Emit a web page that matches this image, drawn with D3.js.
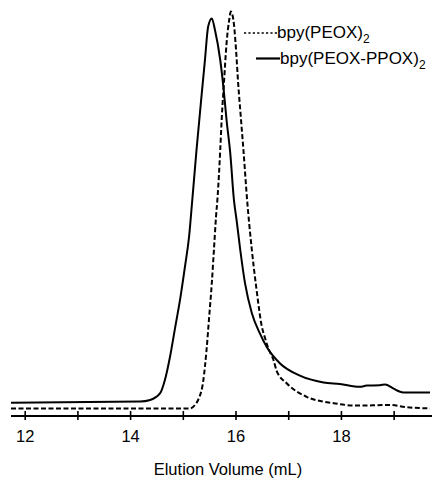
<!DOCTYPE html>
<html><head><meta charset="utf-8">
<script src="https://cdn.jsdelivr.net/npm/d3@7"></script>
<style>body{margin:0;background:#fff}svg{display:block}text{font-family:"Liberation Sans",Arial,sans-serif;fill:#000}</style>
</head><body><div id="chart"></div>
<script>
// Elution volume (mL) and detector response (arbitrary units)
const solidX = [11.74,14.19,14.38,14.57,14.66,14.76,14.85,14.95,15.04,15.12,15.17,15.26,15.36,15.42,15.48,15.55,15.61,15.71,15.77,15.83,15.90,15.97,16.02,16.09,16.18,16.31,16.46,16.59,16.84,17.22,17.67,17.98,18.36,18.49,18.74,18.84,18.99,19.18,19.69];
const solidY = [3.3,3.6,4.0,5.7,9.0,15.0,21.8,29.3,37.3,45.0,52.5,66.5,80.7,89.0,97.3,99.4,96.5,89.0,82.3,74.0,65.7,54.0,49.0,41.5,33.2,25.7,20.7,17.3,13.2,10.1,8.4,8.0,7.3,7.6,7.7,7.9,6.9,5.9,5.9];
const dashX = [11.74,14.95,15.14,15.23,15.29,15.39,15.45,15.50,15.55,15.59,15.63,15.66,15.71,15.74,15.78,15.83,15.88,15.91,15.96,16.01,16.05,16.10,16.15,16.22,16.31,16.40,16.50,16.56,16.62,16.72,16.78,16.97,17.35,17.86,18.30,18.93,19.25,19.69];
const dashY = [1.9,1.9,1.9,2.75,4.0,9.0,16.5,24.8,33.2,41.5,49.8,54.8,66.5,74.8,83.2,93.2,99.0,101.1,99.0,91.5,83.2,74.8,66.5,54.0,41.5,31.5,22.3,19.5,17.0,14.0,11.3,8.2,4.8,3.2,2.6,2.75,2.2,1.9];
const tickValues = [12,13,14,15,16,17,18,19];
const tickLabels = {12:"12",14:"14",16:"16",18:"18"};
const seriesNames = ["bpy(PEOX)", "bpy(PEOX-PPOX)"];
const xTitle = "Elution Volume (mL)";

const W = 432, H = 480;
const svg = d3.select("#chart").append("svg").attr("width", W).attr("height", H);
const x = d3.scaleLinear().domain([11.74, 19.69]).range([11, 430]);
const y = d3.scaleLinear().domain([0, 100]).range([416, 16]);

const line = d3.line().x(d => x(d[0])).y(d => y(d[1])).curve(d3.curveMonotoneX);
const solid = solidX.map((v,i) => [v, solidY[i]]);
const dashed = dashX.map((v,i) => [v, dashY[i]]);

svg.append("path").datum(dashed).attr("d", line).attr("fill","none")
  .attr("stroke","#000").attr("stroke-width",2).attr("stroke-dasharray","5,2.5");
svg.append("path").datum(solid).attr("d", line).attr("fill","none")
  .attr("stroke","#000").attr("stroke-width",2);

const axis = d3.axisBottom(x).tickValues(tickValues).tickSize(4).tickSizeOuter(0)
  .tickFormat(d => tickLabels[d] || "");
const g = svg.append("g").attr("transform","translate(0,416)").call(axis);
g.select(".domain").attr("stroke-width",2).attr("d","M11,0H432");
g.selectAll(".tick line").attr("y1",-5).attr("y2",4).attr("stroke-width",1.6);
g.selectAll(".tick text").attr("y",26).attr("dy",0).style("font-size","16.5px")
  .style("font-family","'Liberation Sans',Arial,sans-serif").attr("fill","#000");

svg.append("text").attr("x",228).attr("y",475).attr("text-anchor","middle")
  .style("font-size","16.5px").text(xTitle);

// legend
const leg = [
  {name: seriesNames[0], y: 33, x1: 244, x2: 277, dash: "2.2,2.2", w: 1.6, ty: 38},
  {name: seriesNames[1], y: 58.5, x1: 256, x2: 280, dash: null, w: 2.2, ty: 63.5}
];
leg.forEach(d => {
  svg.append("line").attr("x1",d.x1).attr("x2",d.x2).attr("y1",d.y).attr("y2",d.y)
    .attr("stroke","#000").attr("stroke-width",d.w).attr("stroke-dasharray",d.dash);
  const t = svg.append("text").attr("x",d.x2).attr("y",d.ty).style("font-size","17px");
  t.append("tspan").text(d.name);
  t.append("tspan").attr("dy",5).style("font-size","12px").text("2");
});
</script></body></html>
